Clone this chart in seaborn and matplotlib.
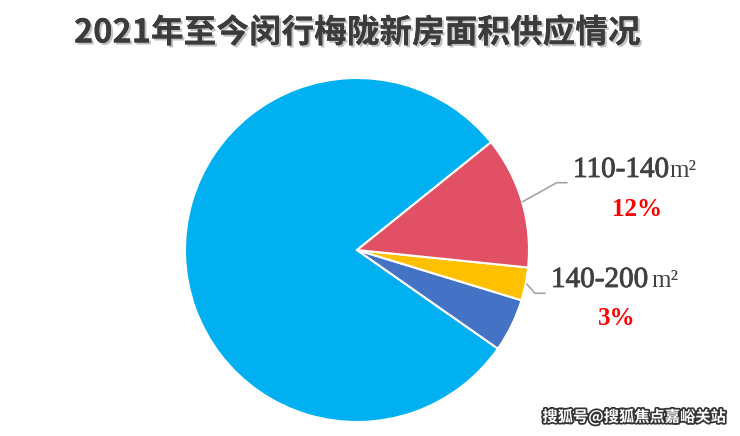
import matplotlib
matplotlib.use("Agg")
import matplotlib.pyplot as plt
import matplotlib.patheffects as pe
import seaborn as sns

# data (share of supply by unit area)
categories = ["<110㎡", "140㎡以上", "140-200㎡", "110-140㎡"]
shares = [79.5, 5.0, 3.1, 12.4]
colors = ["#00B0F0", "#4472C4", "#FFC000", "#E15064"]
label_names = ["110-140", "140-200"]
label_pcts = ["12%", "3%"]

sns.set_theme(style="white")
plt.rcParams["font.family"] = ["Noto Sans CJK SC", "DejaVu Sans"]

W, H = 740, 436
fig = plt.figure(figsize=(W / 100, H / 100), dpi=100)
ax = fig.add_axes([0, 0, 1, 1])


def py(y):
    # pixel row (from top) -> data y
    return H - y


ax.pie(shares, colors=colors, startangle=38.8, counterclock=True,
       center=(357, py(250)), radius=172,
       wedgeprops=dict(edgecolor="white", linewidth=1.5))
# pie resets the limits, so set them afterwards
ax.set_xlim(0, W)
ax.set_ylim(0, H)
ax.set_aspect("equal")
ax.axis("off")

# title
ax.text(357, py(33), "2021年至今闵行梅陇新房面积供应情况", ha="center", va="center",
        fontsize=23.5, fontweight="bold", color="#3b3b3b",
        path_effects=[pe.withSimplePatchShadow(offset=(1.5, -1.5), shadow_rgbFace="#999999", alpha=0.6),
                      pe.Normal()])

# leader lines
ax.plot([522.7, 556.7, 567], [py(201.7), py(182.7), py(182.7)], color="#a6a6a6", lw=1.2)
ax.plot([526.7, 535, 545], [py(284), py(293.3), py(293.3)], color="#a6a6a6", lw=1.2)

serif = ["Liberation Serif", "DejaVu Serif"]
thick = [pe.withStroke(linewidth=0.6, foreground="#404040")]
# label 1
ax.text(573, py(177), label_names[0], ha="left", va="baseline", fontsize=21,
        family=serif, color="#404040", path_effects=thick)
ax.text(669, py(177), "m²", ha="left", va="baseline", fontsize=18,
        family=serif, color="#404040")
ax.text(637, py(216), label_pcts[0], ha="center", va="baseline", fontsize=18,
        family=serif, fontweight="bold", color="#ff0000")
# label 2
ax.text(551, py(287), label_names[1], ha="left", va="baseline", fontsize=21,
        family=serif, color="#404040", path_effects=thick)
ax.text(651, py(287), "m²", ha="left", va="baseline", fontsize=18,
        family=serif, color="#404040")
ax.text(617, py(325), label_pcts[1], ha="center", va="baseline", fontsize=18,
        family=serif, fontweight="bold", color="#ff0000")

# watermark
ax.text(634, py(417), "搜狐号@搜狐焦点嘉峪关站", ha="center", va="center", fontsize=11,
        color="white", fontweight="bold",
        path_effects=[pe.withStroke(linewidth=2.5, foreground="#333333")])

fig.savefig("out.png", dpi=100)
